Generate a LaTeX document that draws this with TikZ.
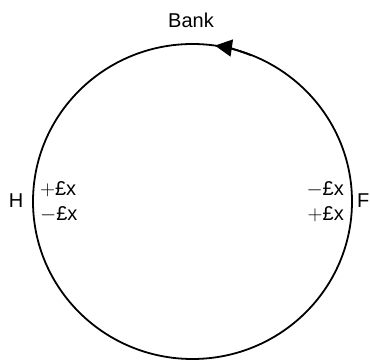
\documentclass[tikz,border=0pt]{standalone}
\usepackage{fontspec}
\setmainfont{Liberation Sans}
\usetikzlibrary{arrows.meta}
\begin{document}
\begin{tikzpicture}[x=1pt,y=1pt,
  lbl/.style={inner sep=0pt, font=\fontsize{20}{24}\selectfont},
  ring/.style={line width=1.8pt}]
\useasboundingbox (0,0) rectangle (370,361);
\coordinate (c) at (192.5,159.5);
\draw[ring] (c) ellipse [x radius=159.5, y radius=157.5];
\draw[ring, -{Triangle[length=17pt,width=17pt]}] ([shift={(68:157.5)}]c) arc (68:81.8:157.5);
\node[lbl, anchor=base] (bank) at (191,333) {Bank};
\node[lbl, anchor=base] (h) at (16,153) {H};
\node[lbl, anchor=base west] (f) at (357,153) {F};
\node[lbl, anchor=base west] (hp) at (40,165) {$+$£x};
\node[lbl, anchor=base west] (hm) at (40,140) {$-$£x};
\node[lbl, anchor=base east] (fm) at (344,165) {$-$£x};
\node[lbl, anchor=base east] (fp) at (344,140) {$+$£x};
\end{tikzpicture}
\end{document}
